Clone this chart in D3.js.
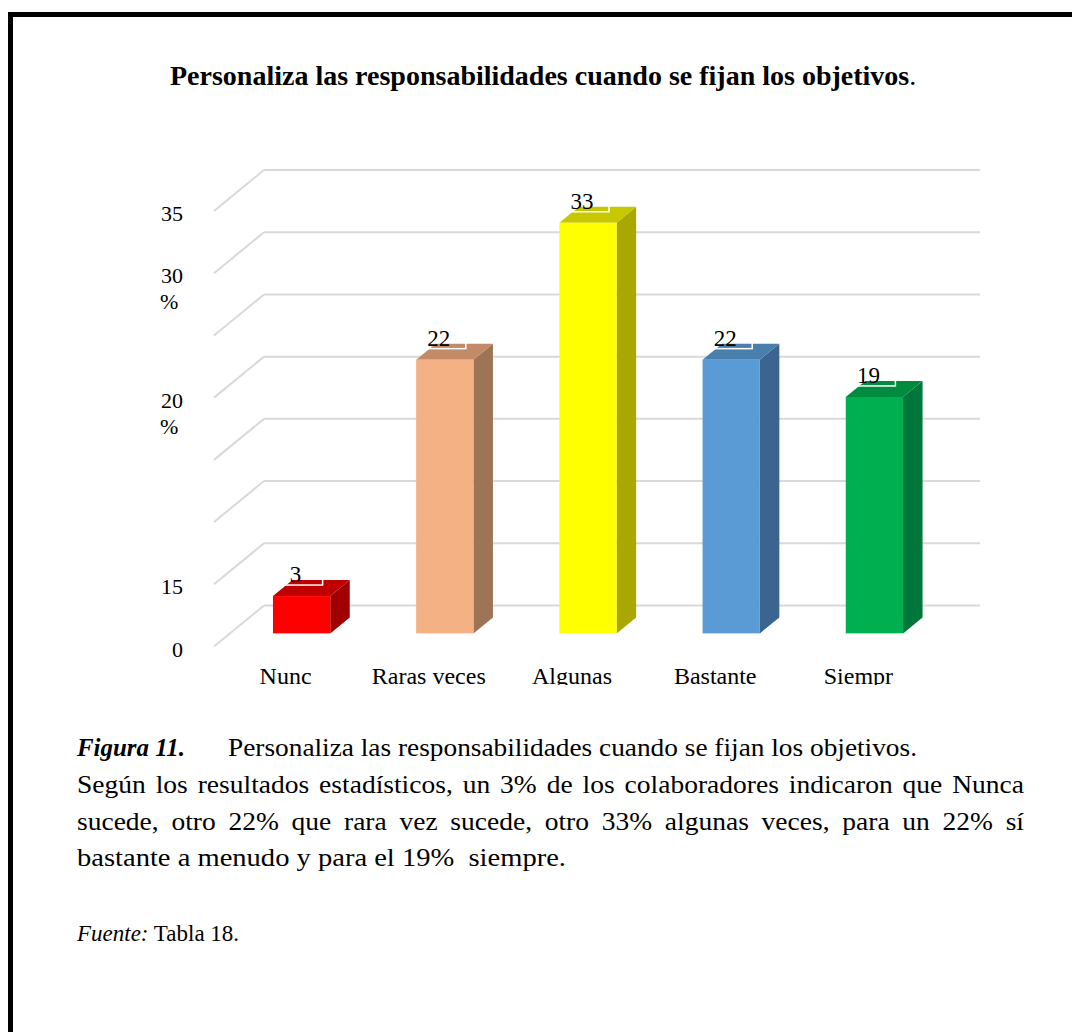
<!DOCTYPE html>
<html>
<head>
<meta charset="utf-8">
<script src="https://cdnjs.cloudflare.com/ajax/libs/d3/7.8.5/d3.min.js"></script>
<style>
  html, body { margin: 0; padding: 0; background: #fff; }
  svg { display: block; }
  svg text { font-family: 'Liberation Serif', 'Times New Roman', Times, serif; }
</style>
</head>
<body>
<script>
// ---- data ----
const categories = ["Nunc", "Raras veces", "Algunas", "Bastante", "Siempr"];
const values = [3, 22, 33, 22, 19];
const tickValues = [0, 5, 10, 15, 20, 25, 30, 35];
const tickLabels = ["0", "15", "", "", "20\n%", "", "30\n%", "35"];

const titleText = "Personaliza las responsabilidades cuando se fijan los objetivos";
const figLabel = "Figura 11.";
const figTitle = "Personaliza las responsabilidades cuando se fijan los objetivos.";
const bodyLines = [
  "Según los resultados estadísticos, un 3% de los colaboradores indicaron que Nunca",
  "sucede, otro 22% que rara vez sucede, otro 33% algunas veces, para un 22% sí",
  "bastante a menudo y para el 19%  siempre."
];
const sourceLabel = "Fuente:";
const sourceText = " Tabla 18.";

// ---- palette (front / top / side faces of each bar) ----
const frontColors = ["#FF0000", "#F4B183", "#FFFF00", "#5B9BD5", "#00B050"];
const topColors   = ["#C00000", "#C28A66", "#C8C800", "#4A7EAD", "#008B3E"];
const sideColors  = ["#A00000", "#9D7456", "#A8A800", "#3B6590", "#00773A"];

const W = 1072, H = 1032;

const svg = d3.select("body").append("svg")
  .attr("width", W).attr("height", H);

// page frame (left and top rules)
svg.append("rect").attr("x", 8).attr("y", 12).attr("width", 5).attr("height", H - 12).attr("fill", "#000");
svg.append("rect").attr("x", 8).attr("y", 12).attr("width", W - 8).attr("height", 5).attr("fill", "#000");

// ---- title ----
const title = svg.append("text")
  .attr("x", 170).attr("y", 85)
  .attr("font-size", 28).attr("fill", "#000");
title.append("tspan").attr("font-weight", "bold").text(titleText);
title.append("tspan").text(".");

// ---- 3D chart geometry ----
const backLeft = 264, backRight = 980;
const depth = { dx: -50, dy: 41 };        // back wall -> front edge of floor
const tFront = 0.68, tBack = 0.29;        // depth position of bar faces

const y = d3.scaleLinear().domain([0, 35]).range([605.5, 170]);
const x = d3.scaleBand().domain(categories).range([backLeft, backRight]).padding(0);
const bw = x.bandwidth();
const barW = bw * 0.4;

const chart = svg.append("g");

// gridlines: back wall + left wall diagonals
const grid = chart.append("g").attr("stroke", "#D9D9D9").attr("stroke-width", 2).attr("fill", "none");
tickValues.forEach(v => {
  grid.append("line")
    .attr("x1", backLeft).attr("x2", backRight)
    .attr("y1", y(v)).attr("y2", y(v));
  grid.append("line")
    .attr("x1", backLeft).attr("y1", y(v))
    .attr("x2", backLeft + depth.dx).attr("y2", y(v) + depth.dy);
});

// bar geometry derived from scales
const bars = categories.map((c, i) => {
  const x0 = x(c) + (bw - barW) / 2 + tFront * depth.dx;
  const x1 = x0 + barW;
  const yt = y(values[i]) + tFront * depth.dy;
  const yb = y(0) + tFront * depth.dy;
  const ox = (tBack - tFront) * depth.dx;
  const oy = (tBack - tFront) * depth.dy;
  return { c, v: values[i], i, x0, x1, yt, yb, ox, oy };
});

// value label boxes
const lbl = bars.map(b => {
  const cx = (b.x0 + b.x1) / 2 - 6;
  const base = b.yt - 14;
  return { cx, base, bx: cx - 17, by: base - 23, bwid: 44, bh: 26, v: b.v };
});

chart.append("g").selectAll("rect").data(lbl).join("rect")
  .attr("x", d => d.bx).attr("y", d => d.by)
  .attr("width", d => d.bwid).attr("height", d => d.bh)
  .attr("fill", "#fff");

// bars: side, top, front
const barG = chart.append("g").selectAll("g").data(bars).join("g");
barG.append("path")
  .attr("fill", d => sideColors[d.i])
  .attr("d", d => `M${d.x1},${d.yt}L${d.x1 + d.ox},${d.yt + d.oy}L${d.x1 + d.ox},${d.yb + d.oy}L${d.x1},${d.yb}Z`);
barG.append("path")
  .attr("fill", d => topColors[d.i])
  .attr("d", d => `M${d.x0},${d.yt}L${d.x1},${d.yt}L${d.x1 + d.ox},${d.yt + d.oy}L${d.x0 + d.ox},${d.yt + d.oy}Z`);
barG.append("rect")
  .attr("fill", d => frontColors[d.i])
  .attr("x", d => d.x0).attr("y", d => d.yt)
  .attr("width", d => d.x1 - d.x0).attr("height", d => d.yb - d.yt);

chart.append("g").selectAll("rect").data(lbl).join("rect")
  .attr("x", d => d.bx).attr("y", d => d.by)
  .attr("width", d => d.bwid).attr("height", d => d.bh)
  .attr("fill", "none").attr("stroke", "#fff").attr("stroke-width", 1.5);

chart.append("g").selectAll("text").data(lbl).join("text")
  .attr("x", d => d.cx).attr("y", d => d.base)
  .attr("text-anchor", "middle").attr("font-size", 23).attr("fill", "#000")
  .text(d => d.v);

// value axis labels at the front end of each gridline
const axisG = chart.append("g").attr("font-size", 22).attr("fill", "#000");
tickValues.forEach((v, i) => {
  const lines = tickLabels[i].split("\n");
  if (!lines[0]) return;
  const yy = y(v) + depth.dy + 10;
  const t = axisG.append("text").attr("y", yy);
  lines.forEach((ln, k) => {
    t.append("tspan")
      .attr("x", k === 0 ? 183 : 160)
      .attr("y", yy + k * 26)
      .attr("text-anchor", k === 0 ? "end" : "start")
      .text(ln);
  });
});

// category labels on the front edge, clipped at the plot bottom
svg.append("clipPath").attr("id", "plotClip")
  .append("rect").attr("x", 0).attr("y", 0).attr("width", W).attr("height", 685);
chart.append("g").attr("clip-path", "url(#plotClip)")
  .selectAll("text").data(categories).join("text")
  .attr("x", c => x(c) + bw / 2 + depth.dx)
  .attr("y", 684)
  .attr("text-anchor", "middle").attr("font-size", 24).attr("fill", "#000")
  .text(c => c);

// ---- caption ----
const cap = svg.append("g").attr("font-size", 25).attr("fill", "#000");
const sx = 1.1;

function fitted(g, txt, x0, x1, yy, attrs) {
  const t = g.append("text").attr("x", x0).attr("y", yy).attr("xml:space", "preserve").text(txt);
  Object.entries(attrs || {}).forEach(([k, v]) => t.attr(k, v));
  t.attr("textLength", x1 - x0).attr("lengthAdjust", "spacingAndGlyphs");
  return t;
}

function justify(g, txt, x0, x1, yy) {
  const words = txt.split(/\s+/);
  const nodes = words.map(w => g.append("text").attr("y", yy).text(w));
  const widths = nodes.map(n => n.node().getComputedTextLength() * sx);
  const gap = (x1 - x0 - d3.sum(widths)) / (words.length - 1);
  let cx = x0;
  nodes.forEach((n, k) => {
    n.attr("x", cx).attr("textLength", widths[k]).attr("lengthAdjust", "spacingAndGlyphs");
    cx += widths[k] + gap;
  });
}

fitted(cap, figLabel, 77, 185, 756, { "font-weight": "bold", "font-style": "italic" });
fitted(cap, figTitle, 228, 917, 756);
justify(cap, bodyLines[0], 77, 1024, 793);
justify(cap, bodyLines[1], 77, 1024, 830);
fitted(cap, bodyLines[2], 77, 566, 866);

const src = svg.append("text").attr("x", 77).attr("y", 941)
  .attr("font-size", 23).attr("fill", "#000").attr("xml:space", "preserve");
src.append("tspan").attr("font-style", "italic").text(sourceLabel);
src.append("tspan").text(sourceText);
</script>
</body>
</html>
